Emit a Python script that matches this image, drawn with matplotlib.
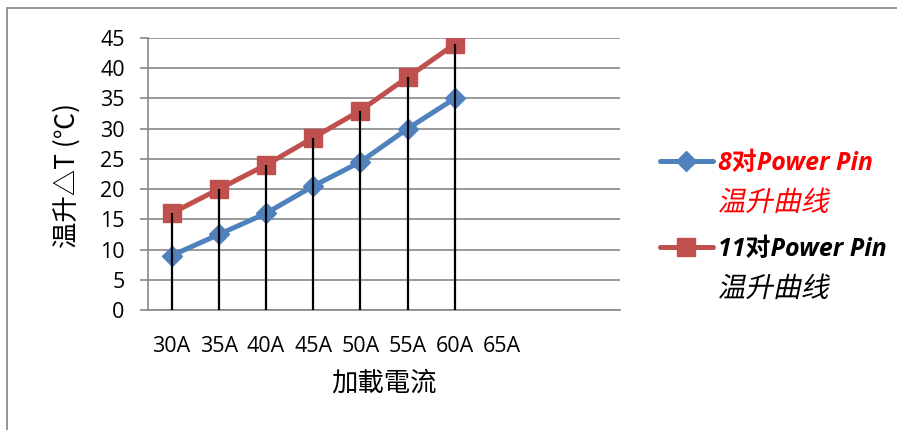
import matplotlib
matplotlib.use('Agg')
import matplotlib.pyplot as plt
import numpy as np
from matplotlib.patches import Rectangle, PathPatch
from matplotlib.textpath import TextPath
from matplotlib.font_manager import FontProperties
from matplotlib.transforms import Affine2D

# ---- data ----
categories = ['30A', '35A', '40A', '45A', '50A', '55A', '60A', '65A']
pins8 = [9, 12.5, 16, 20.5, 24.5, 30, 35]
pins11 = [16, 20, 24, 28.5, 33, 38.5, 44]
legend_line1 = ['8对Power Pin', '11对Power Pin']
legend_line2 = ['温升曲线', '温升曲线']
legend_colors = ['#FF0000', '#000000']
y_ticks = list(range(0, 50, 5))
x_title = '加載電流'
y_title = '温升△T (℃)'

BLUE = '#4F81BD'
RED = '#C0504D'
GRAY = '#878787'

W, H = 897, 430
DPI = 100
fig = plt.figure(figsize=(W / DPI, H / DPI), dpi=DPI)
fig.patch.set_facecolor('white')

# outer chart border (left and top visible)
fig.patches.append(Rectangle((7 / W, -0.1), 1.2, 1 - 8 / H + 0.1, transform=fig.transFigure,
                             fill=False, edgecolor='#8C8C8C', linewidth=1.3))

ax = fig.add_axes([148 / W, 1 - 310 / H, 472 / W, 272 / H])

x8 = np.arange(len(pins8))
x11 = np.arange(len(pins11))

l1, = ax.plot(x8, pins8, color=BLUE, lw=3.6, marker='D', markersize=10,
              markeredgecolor=BLUE, markerfacecolor=BLUE, zorder=3,
              solid_capstyle='round')
l2, = ax.plot(x11, pins11, color=RED, lw=3.6, marker='s', markersize=13.5,
              markeredgecolor=RED, markerfacecolor=RED, zorder=3,
              solid_capstyle='round')
ax.vlines(x11, 0, np.maximum(pins8, pins11), colors='black', linewidth=1.6, zorder=4)

ax.set_xlim(-0.5, 9.5)
ax.set_ylim(0, 45)
ax.set_yticks(y_ticks)
ax.set_xticks(np.arange(len(categories)))
ax.set_xticklabels(categories)

ax.grid(axis='y', color=GRAY, linewidth=1.2)
ax.set_axisbelow(True)
for s in ['top', 'right']:
    ax.spines[s].set_visible(False)
for s in ['left', 'bottom']:
    ax.spines[s].set_color(GRAY)
    ax.spines[s].set_linewidth(1.2)

ax.tick_params(axis='y', length=5.8, width=1.2, color=GRAY, pad=11, labelsize=15.5)
ax.tick_params(axis='x', length=0, pad=19, labelsize=15.5)
for lab in ax.get_xticklabels() + ax.get_yticklabels():
    lab.set_fontfamily(['Open Sans', 'DejaVu Sans'])

fig.text(67 / W, 1 - 176 / H, y_title, rotation=90, ha='center', va='center',
         fontsize=19, family=['Noto Sans CJK SC', 'DejaVu Sans'])
fig.text(384 / W, 1 - 383 / H, x_title, ha='center', va='center',
         fontsize=19, family=['Noto Sans CJK SC', 'DejaVu Sans'])

leg = ax.legend([l1, l2], legend_line1, loc='upper left',
                bbox_to_anchor=(660 / W, 1 - 151 / H), bbox_transform=fig.transFigure,
                frameon=False, handlelength=2.1, handletextpad=0.2, labelspacing=2.44,
                borderaxespad=0, borderpad=0,
                prop=dict(family=['Open Sans', 'Noto Sans CJK SC'], weight='bold',
                          style='italic', size=18))
for t, c in zip(leg.get_texts(), legend_colors):
    t.set_color(c)

fig.canvas.draw()
renderer = fig.canvas.get_renderer()
cjk_fp = FontProperties(family='Noto Sans CJK SC')
for t, txt2, c in zip(leg.get_texts(), legend_line2, legend_colors):
    bb = t.get_window_extent(renderer)
    yc = (bb.y0 + bb.y1) / 2
    tp = TextPath((0, 0), txt2, size=20 * DPI / 72, prop=cjk_fp)
    ext = tp.get_extents()
    tr = (Affine2D().skew_deg(12, 0)
          .translate(bb.x0 + 1 - ext.x0, yc - 24 - ext.y1))
    patch = PathPatch(tp, facecolor=c, edgecolor='none', transform=tr)
    fig.add_artist(patch)
    patch.set_transform(tr)

fig.savefig('out.png', dpi=DPI, facecolor='white')
